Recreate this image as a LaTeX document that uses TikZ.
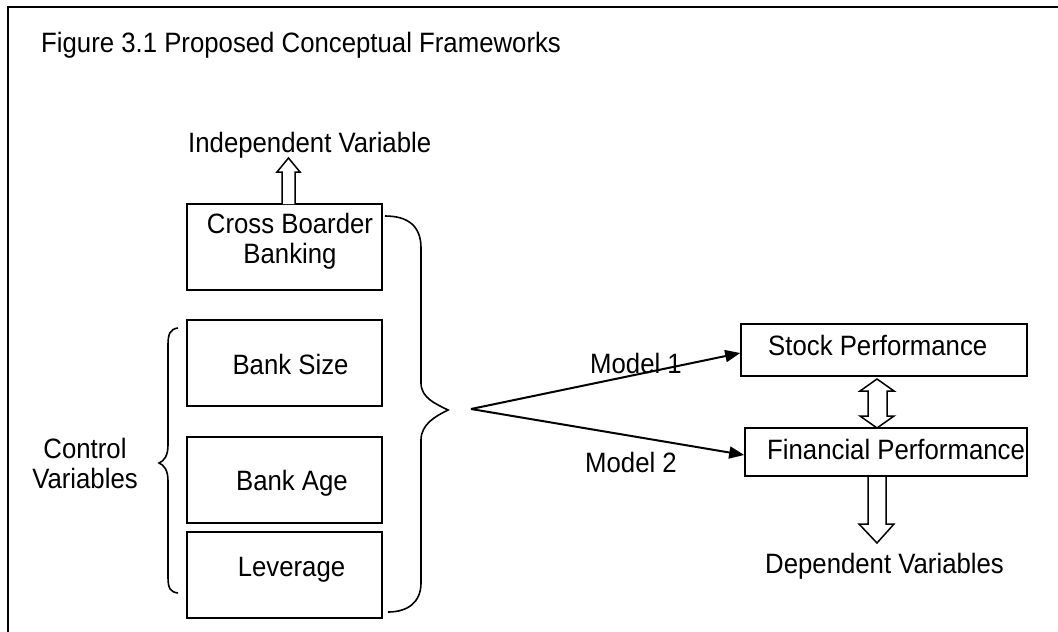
\documentclass[tikz,border=0pt]{standalone}
\usepackage{fontspec}
\setmainfont{Liberation Sans}[FakeStretch=0.92]
\usetikzlibrary{arrows.meta,calc}
\begin{document}
\begin{tikzpicture}[x=1pt,y=-1pt,
  every node/.style={font=\fontsize{28}{30}\selectfont, inner sep=0pt},
  box/.style={draw, line width=1.6pt, minimum width=195pt, minimum height=86pt},
  rbox/.style={draw, line width=1.6pt},
  txt/.style={anchor=base west},
  ctxt/.style={anchor=base},
  mtxt/.style={anchor=north, align=center},
  hollow/.style={draw, line width=1.5pt, fill=white, line join=miter},
  conn/.style={line width=2pt, -{Triangle[length=15pt,width=12pt]}},
  brace/.style={line width=1.6pt}
]
\useasboundingbox (0,0) rectangle (1058,632);
% frame (cropped)
\draw[line width=2.2pt] (1058,7) -- (8,7) -- (8,632);

% title
\node[txt] (title) at (41,52) {Figure 3.1 Proposed Conceptual Frameworks};

% left boxes
\node[box] (cbb) at (284.5,247) {};
\node[box] (bs)  at (284.5,363) {};
\node[box] (ba)  at (284.5,480) {};
\node[box] (lev) at (284.5,575) {};
\node[mtxt] (cbbt) at (290,212.6) {Cross Boarder\\Banking};
\node[ctxt] (bst)  at (290.5,374) {Bank Size};
\node[ctxt] (bat)  at (292,490) {Bank Age};
\node[ctxt] (levt) at (291.5,576) {Leverage};

% independent variable
\node[txt] (iv) at (188,152) {Independent Variable};
\draw[hollow] (282,204) -- (282,172) -- (277,172) -- (288.5,158) -- (300,172) -- (295,172) -- (295,204);

% control variables
\node[mtxt] (cv) at (85,437.6) {Control\\Variables};
\draw[brace] (178,328) .. controls (170,329) and (168,334) .. (168,345)
  -- (168,445) .. controls (168,456) and (164,461) .. (159,463)
  .. controls (164,465) and (168,470) .. (168,481)
  -- (168,577) .. controls (168,588) and (170,592) .. (178,593);

% big brace
\draw[brace] (385,216) .. controls (408,216) and (421,226) .. (421,248)
  -- (421,383) .. controls (421,398) and (436,404) .. (448,410)
  .. controls (436,416) and (421,424) .. (421,440)
  -- (421,583) .. controls (421,602) and (408,612) .. (388,612);

% apex and model arrows
\coordinate (apex) at (471,409);
\node[rbox, minimum width=286pt, minimum height=52pt] (sp) at (884,350) {};
\node[rbox, minimum width=282pt, minimum height=48pt] (fp) at (886,452) {};
\node[txt] (spt) at (768,355) {Stock Performance};
\node[txt] (fpt) at (767,459) {Financial Performance};
\draw[conn] (apex) -- ($(sp.west)+(0,3)$);
\draw[conn] (apex) -- ($(fp.west)+(0,3)$);
\node[txt] (m1) at (590,373) {Model 1};
\node[txt] (m2) at (585,472) {Model 2};

% double arrow
\draw[hollow] (877,379) -- (894,391) -- (887,391) -- (887,416) -- (894,416) -- (877,428)
  -- (860,416) -- (868,416) -- (868,391) -- (860,391) -- cycle;

% down arrow
\draw[hollow] (868,477) -- (868,524) -- (859,524) -- (877,543) -- (894,524) -- (886,524) -- (886,477);
\node[txt] (dv) at (765,573) {Dependent Variables};
\end{tikzpicture}
\end{document}
